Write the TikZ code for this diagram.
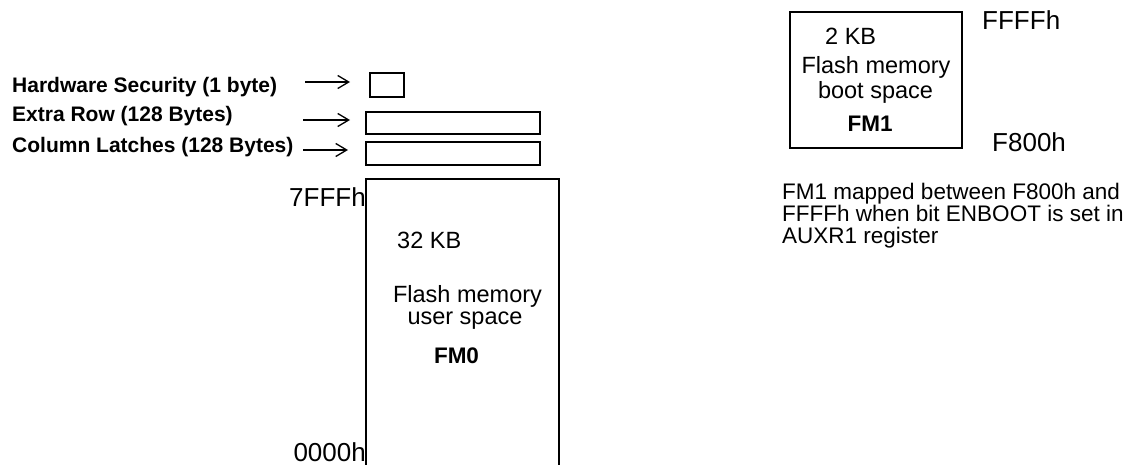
\documentclass[tikz,border=0pt]{standalone}
\usepackage{fontspec}
\setmainfont{Liberation Sans}
\usetikzlibrary{arrows.meta}
\begin{document}
\begin{tikzpicture}[x=1pt,y=-1pt,
  lbl/.style={font=\fontsize{21}{25}\selectfont\bfseries, anchor=base west, inner sep=0pt},
  body/.style={font=\fontsize{23.5}{28}\selectfont, anchor=base, inner sep=0pt},
  bodyb/.style={font=\fontsize{22.5}{27}\selectfont\bfseries, anchor=base, inner sep=0pt},
  addr/.style={font=\fontsize{26}{30}\selectfont, inner sep=0pt},
  note/.style={font=\fontsize{22.5}{27}\selectfont, anchor=base west, inner sep=0pt},
  ptr/.style={line width=1.3pt, -{Straight Barb[length=11pt,width=13pt]}},
  cell/.style={draw, line width=2pt, inner sep=0pt, outer sep=0pt}]
\useasboundingbox (0,0) rectangle (1137,465);

% left labels
\node[lbl] (hwl) at (12,93) {Hardware Security (1 byte)};
\node[lbl] (erl) at (12,122) {Extra Row (128 Bytes)};
\node[lbl] (cll) at (12,153) {Column Latches (128 Bytes)};

% small cells
\node[cell, minimum width=34pt, minimum height=24pt] (hw) at (387,85) {};
\node[cell, minimum width=174pt, minimum height=22pt] (er) at (453,123) {};
\node[cell, minimum width=174pt, minimum height=23pt] (cl) at (453,153.5) {};

% pointers
\coordinate (hwa) at (305,82);  \coordinate (hwb) at (350,82);
\coordinate (era) at (303,120); \coordinate (erb) at (350,120);
\coordinate (cla) at (303,150); \coordinate (clb) at (348,150);
\draw[ptr] (hwa) -- (hwb);
\draw[ptr] (era) -- (erb);
\draw[ptr] (cla) -- (clb);

% FM0 block (bottom cut by the page edge)
\begin{scope}
  \clip (0,0) rectangle (1137,465);
  \node[cell, minimum width=193pt, minimum height=310pt, anchor=north west] (fm0) at (366,179) {};
\end{scope}
\node[addr, anchor=base east] (a7fff) at (366,207) {7FFFh};
\node[addr, anchor=base east] (a0000) at (366,461) {0000h};
\node[body, anchor=base west] (fm0size) at (397,248) {32 KB};
\node[body] (fm0t1) at (467.5,302) {Flash memory};
\node[body] (fm0t2) at (465,324) {user space};
\node[bodyb] (fm0n) at (456.5,363) {FM0};

% FM1 block
\node[cell, minimum width=172pt, minimum height=136pt] (fm1) at (876,80) {};
\node[body, anchor=base west] (fm1size) at (825,45) {2 KB};
\node[body] (fm1t1) at (876,74) {Flash memory};
\node[body] (fm1t2) at (875.5,99) {boot space};
\node[bodyb] (fm1n) at (870,132) {FM1};
\node[addr, anchor=base west] (affff) at (982,30) {FFFFh};
\node[addr, anchor=base west] (af800) at (992,152) {F800h};

% note
\node[note] (n1) at (782,200) {FM1 mapped between F800h and};
\node[note] (n2) at (782,221.5) {FFFFh when bit ENBOOT is set in};
\node[note] (n3) at (782,243) {AUXR1 register};
\end{tikzpicture}
\end{document}
